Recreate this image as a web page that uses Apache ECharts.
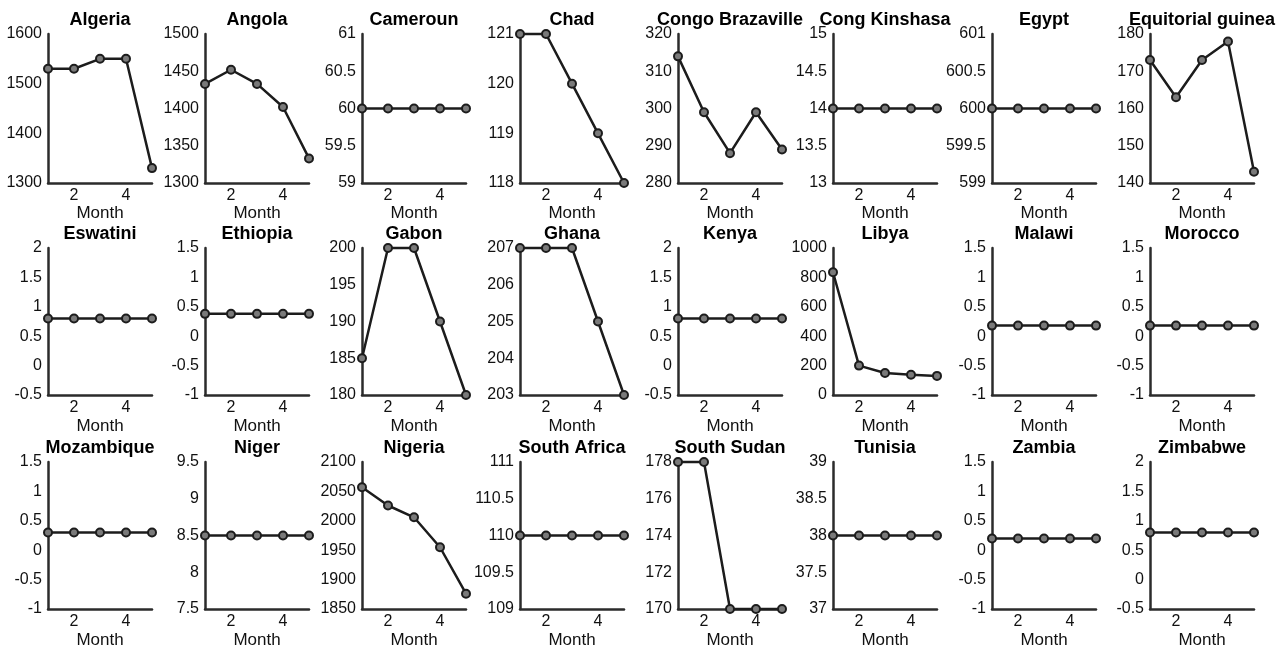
<!DOCTYPE html>
<html>
<head>
<meta charset="utf-8">
<script src="https://cdn.jsdelivr.net/npm/echarts@6/dist/echarts.min.js"></script>
<style>
html,body{margin:0;padding:0;background:#fff;}
#chart{width:1288px;height:650px;}
</style>
</head>
<body>
<div id="chart"></div>
<script>
// ---- data ----
const months = [1, 2, 3, 4, 5];
const countries = ['Algeria','Angola','Cameroun','Chad','Congo Brazaville','Cong Kinshasa','Egypt','Equitorial guinea',
  'Eswatini','Ethiopia','Gabon','Ghana','Kenya','Libya','Malawi','Morocco',
  'Mozambique','Niger','Nigeria','South Africa','South Sudan','Tunisia','Zambia','Zimbabwe'];

const algeria = [1530, 1530, 1550, 1550, 1330];
const angola = [1433, 1452, 1433, 1402, 1333];
const cameroun = [60, 60, 60, 60, 60];
const chad = [121, 121, 120, 119, 118];
const congoBrazaville = [314, 299, 288, 299, 289];
const congKinshasa = [14, 14, 14, 14, 14];
const egypt = [600, 600, 600, 600, 600];
const equitorialGuinea = [173, 163, 173, 178, 143];
const eswatini = [0.8, 0.8, 0.8, 0.8, 0.8];
const ethiopia = [0.38, 0.38, 0.38, 0.38, 0.38];
const gabon = [185, 200, 200, 190, 180];
const ghana = [207, 207, 207, 205, 203];
const kenya = [0.8, 0.8, 0.8, 0.8, 0.8];
const libya = [835, 200, 150, 138, 130];
const malawi = [0.18, 0.18, 0.18, 0.18, 0.18];
const morocco = [0.18, 0.18, 0.18, 0.18, 0.18];
const mozambique = [0.3, 0.3, 0.3, 0.3, 0.3];
const niger = [8.5, 8.5, 8.5, 8.5, 8.5];
const nigeria = [2057, 2026, 2006, 1955, 1876];
const southAfrica = [110, 110, 110, 110, 110];
const southSudan = [178, 178, 170, 170, 170];
const tunisia = [38, 38, 38, 38, 38];
const zambia = [0.2, 0.2, 0.2, 0.2, 0.2];
const zimbabwe = [0.8, 0.8, 0.8, 0.8, 0.8];

const seriesValues = [algeria, angola, cameroun, chad, congoBrazaville, congKinshasa, egypt, equitorialGuinea,
  eswatini, ethiopia, gabon, ghana, kenya, libya, malawi, morocco,
  mozambique, niger, nigeria, southAfrica, southSudan, tunisia, zambia, zimbabwe];

// y-axis tick ranges
const yMins  = [1300, 1300, 59, 118, 280, 13, 599, 140,  -0.5, -1, 180, 203, -0.5, 0, -1, -1,  -1, 7.5, 1850, 109, 170, 37, -1, -0.5];
const yMaxs  = [1600, 1500, 61, 121, 320, 15, 601, 180,  2, 1.5, 200, 207, 2, 1000, 1.5, 1.5,  1.5, 9.5, 2100, 111, 178, 39, 1.5, 2];
const ySteps = [100, 50, 0.5, 1, 10, 0.5, 0.5, 10,  0.5, 0.5, 5, 1, 0.5, 200, 0.5, 0.5,  0.5, 0.5, 50, 0.5, 2, 0.5, 0.5, 0.5];
const xTickLabels = [2, 4];

// ---- layout ----
const colLefts = [48, 205, 362, 520, 678, 833, 992, 1150];
const rowTops = [34, 248, 462];
const rowHeights = [149, 147, 147];
const nameGaps = [21, 23, 23];
const plotW = 104;
const FONT = '"Liberation Sans", Arial, sans-serif';

const grids = [], xAxes = [], yAxes = [], series = [], titles = [];
countries.forEach((name, i) => {
  const r = Math.floor(i / 8), c = i % 8;
  grids.push({left: colLefts[c], top: rowTops[r], width: plotW, height: rowHeights[r], containLabel: false});
  titles.push({
    text: name, left: colLefts[c] + plotW / 2, top: rowTops[r] - 23, textAlign: 'center', padding: 0,
    textStyle: {fontFamily: FONT, fontSize: 18, fontWeight: 'bold', color: '#000'}
  });
  xAxes.push({
    type: 'value', gridIndex: i, min: 1, max: 5, interval: 1,
    name: 'Month', nameLocation: 'middle', nameGap: nameGaps[r],
    nameTextStyle: {fontFamily: FONT, fontSize: 17, color: '#111'},
    axisLine: {show: true, onZero: false, lineStyle: {color: '#2b2b2b', width: 2.5}},
    axisTick: {show: false},
    splitLine: {show: false},
    axisLabel: {
      fontFamily: FONT, fontSize: 16, color: '#111', margin: 5,
      formatter: v => (xTickLabels.indexOf(v) >= 0 ? String(v) : '')
    }
  });
  yAxes.push({
    type: 'value', gridIndex: i, min: yMins[i], max: yMaxs[i], interval: ySteps[i],
    axisLine: {show: true, onZero: false, lineStyle: {color: '#2b2b2b', width: 2.5}},
    axisTick: {show: false},
    splitLine: {show: false},
    axisLabel: {fontFamily: FONT, fontSize: 16, color: '#111', margin: 6, showMinLabel: true, showMaxLabel: true,
      formatter: v => String(Math.round(v * 1000) / 1000)}
  });
  series.push({
    type: 'line', xAxisIndex: i, yAxisIndex: i, clip: false,
    data: months.map((m, k) => [m, seriesValues[i][k]]),
    symbol: 'circle', symbolSize: 8, showSymbol: true,
    lineStyle: {color: '#1c1c1c', width: 2.5},
    itemStyle: {color: '#7a7a7a', borderColor: '#1c1c1c', borderWidth: 2},
    animation: false
  });
});

const chart = echarts.init(document.getElementById('chart'), null, {renderer: 'canvas'});
chart.setOption({
  backgroundColor: '#fff',
  animation: false,
  title: titles,
  grid: grids,
  xAxis: xAxes,
  yAxis: yAxes,
  series: series
});
</script>
</body>
</html>
